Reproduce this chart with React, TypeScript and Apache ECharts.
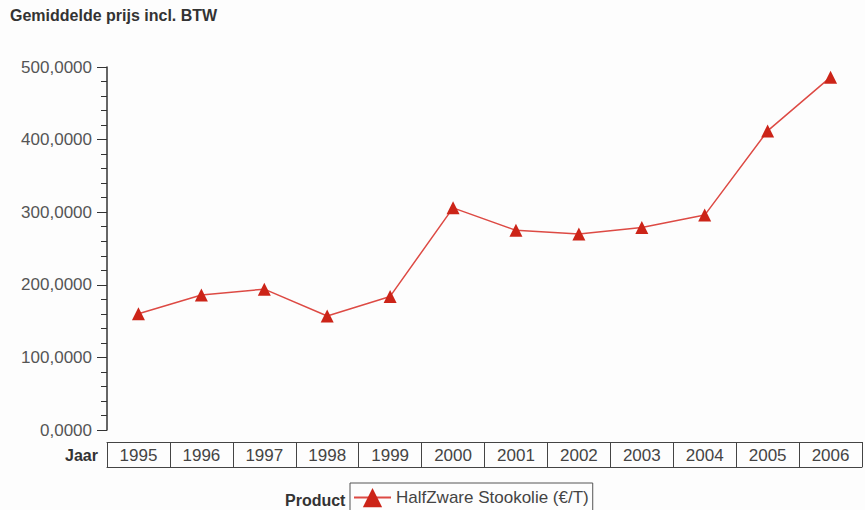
import React, { useEffect, useRef } from "react";
import * as echarts from "echarts";

// Average price per year, incl. VAT
const years = ["1995", "1996", "1997", "1998", "1999", "2000", "2001", "2002", "2003", "2004", "2005", "2006"];
const prices = [160, 186, 194, 157, 184, 306, 275, 270, 279, 296, 412, 486];
const seriesName = "HalfZware Stookolie (€/T)";
const titleText = "Gemiddelde prijs incl. BTW";
const xAxisName = "Jaar";
const legendName = "Product";

const FONT = "'Liberation Sans', Arial, sans-serif";
const BOX = "#444";

export default function App() {
  const ref = useRef<HTMLDivElement>(null);

  useEffect(() => {
    if (!ref.current) return;
    const chart = echarts.init(ref.current, undefined, { renderer: "svg" });
    chart.setOption({
      animation: false,
      backgroundColor: "#fdfdfd",
      textStyle: { fontFamily: FONT },
      grid: [
        // plot area
        { left: 107, right: 3, top: 67, bottom: 80, containLabel: false },
        // year table below the plot
        { left: 107, right: 3, top: 442, height: 25, containLabel: false },
      ],
      title: {
        text: titleText,
        left: 10,
        top: 7,
        padding: 0,
        textStyle: { fontFamily: FONT, fontSize: 16, fontWeight: "bold", color: "#333" },
      },
      legend: {
        data: [seriesName],
        left: 350,
        top: 483,
        orient: "horizontal",
        itemWidth: 37,
        itemHeight: 24,
        itemGap: 0,
        padding: [5, 4, 5, 3],
        borderColor: "#555",
        borderWidth: 1,
        borderRadius: 0,
        textStyle: { fontFamily: FONT, fontSize: 17, color: "#444" },
      },
      graphic: [
        {
          type: "text",
          right: 865 - 98,
          top: 447,
          style: { text: xAxisName, font: `bold 16px ${FONT}`, fill: "#333" },
        },
        {
          type: "text",
          left: 285,
          top: 492,
          style: { text: legendName, font: `bold 16px ${FONT}`, fill: "#333" },
        },
      ],
      xAxis: [
        {
          // category axis of the plot itself (no visible line)
          gridIndex: 0,
          type: "category",
          data: years,
          boundaryGap: true,
          axisLine: { show: false, onZero: false },
          axisTick: { show: false },
          axisLabel: { show: false },
          splitLine: { show: false },
        },
        {
          // top edge of the year table, with cell separators and labels
          gridIndex: 1,
          type: "category",
          data: years,
          position: "top",
          boundaryGap: true,
          axisLine: { show: true, onZero: false, lineStyle: { color: BOX, width: 1 } },
          axisTick: { show: true, inside: true, length: 25, interval: 0, lineStyle: { color: BOX, width: 1 } },
          axisLabel: {
            inside: true,
            interval: 0,
            margin: 5,
            fontSize: 17,
            color: "#444",
            fontFamily: FONT,
          },
          splitLine: { show: false },
        },
        {
          // bottom edge of the year table
          gridIndex: 1,
          type: "category",
          data: years,
          position: "bottom",
          boundaryGap: true,
          axisLine: { show: true, onZero: false, lineStyle: { color: BOX, width: 1 } },
          axisTick: { show: false },
          axisLabel: { show: false },
          splitLine: { show: false },
        },
      ],
      yAxis: [
        {
          gridIndex: 0,
          type: "value",
          min: 0,
          max: 500,
          interval: 100,
          axisLine: { show: true, onZero: false, lineStyle: { color: "#333", width: 1.5 } },
          axisTick: { show: true, length: 10, lineStyle: { color: "#333", width: 1 } },
          minorTick: { show: true, splitNumber: 5, length: 6, lineStyle: { color: "#333", width: 1 } },
          splitLine: { show: false },
          axisLabel: {
            margin: 15,
            fontSize: 17,
            color: "#555",
            fontFamily: FONT,
            formatter: (v: number) => v.toFixed(4).replace(".", ","),
          },
        },
        {
          gridIndex: 1,
          type: "value",
          min: 0,
          max: 1,
          show: false,
        },
      ],
      series: [
        {
          name: seriesName,
          type: "line",
          data: prices,
          xAxisIndex: 0,
          yAxisIndex: 0,
          symbol: "triangle",
          symbolSize: 13,
          showAllSymbol: true,
          itemStyle: { color: "#cc2418" },
          lineStyle: { color: "#dd4a44", width: 1.5 },
        },
      ],
    });
    return () => chart.dispose();
  }, []);

  return (
    <div
      ref={ref}
      style={{ position: "fixed", left: 0, top: 0, width: 865, height: 510 }}
    />
  );
}
